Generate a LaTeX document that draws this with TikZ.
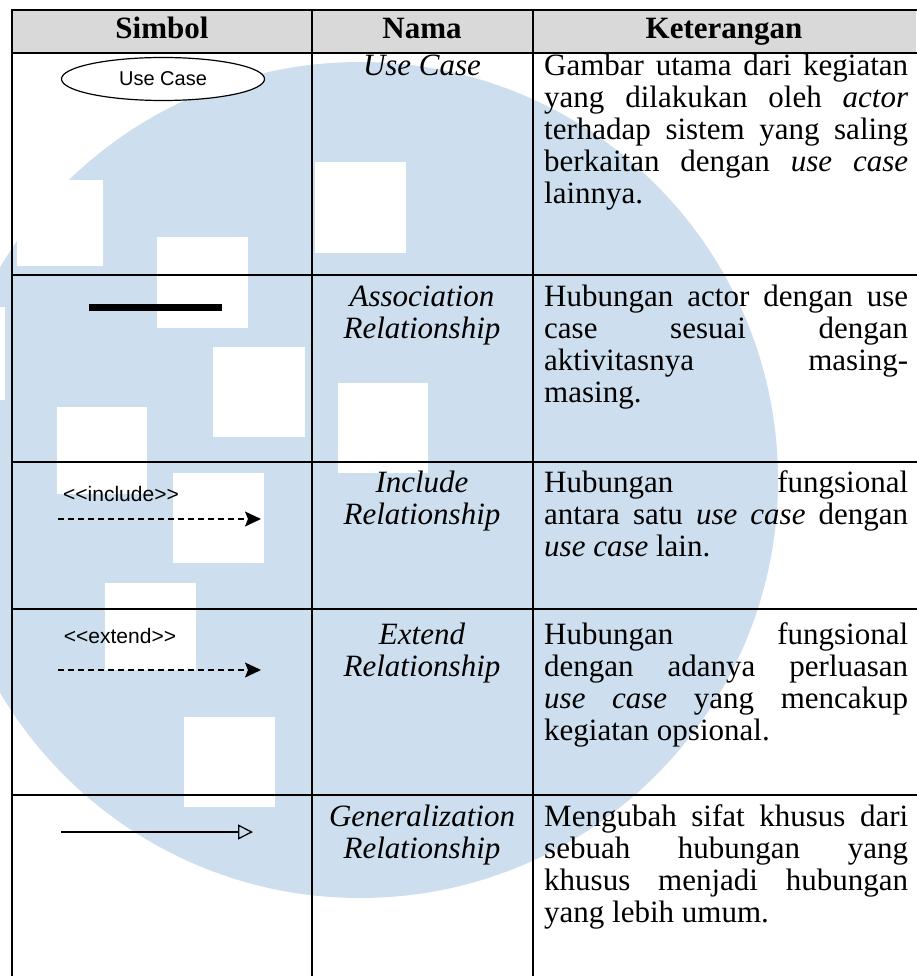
\documentclass[tikz,border=0pt]{standalone}
\usepackage{fontspec}
\setmainfont{Liberation Serif}
\newfontfamily\labelfont{Liberation Sans}
\usetikzlibrary{arrows.meta,shapes.geometric}

\definecolor{wmblue}{RGB}{205,223,238}
\definecolor{headgray}{RGB}{217,217,217}

\newcommand\bodyfont{\fontsize{31}{32}\selectfont}
\newcommand\justline[1]{\makebox[364pt][s]{#1}}

\begin{document}
\begin{tikzpicture}[x=1pt,y=-1pt,
  grid/.style={line width=2pt, black, line cap=rect},
  txt/.style={inner sep=0pt, font=\bodyfont},
  jl/.style={txt, anchor=base west},
  nm/.style={inner sep=0pt, anchor=base, font=\bodyfont\itshape},
  hd/.style={inner sep=0pt, anchor=base, font=\bodyfont\bfseries},
  lbl/.style={inner sep=0pt, font=\labelfont\fontsize{21}{21}\selectfont},
  dasharrow/.style={line width=1.4pt, dash pattern=on 6pt off 4pt,
    -{Stealth[length=16pt,width=15pt,inset=3pt]}},
  genarrow/.style={line width=1.3pt, -{Triangle[open,length=15pt,width=15pt]}},
]
\useasboundingbox (0,0) rectangle (916,976);
\fill[white] (0,0) rectangle (916,976);

% watermark disc with its white squares
\begin{scope}
  \clip (0,0) rectangle (916,976);
  \fill[wmblue] (360,480) circle[radius=418pt];
  \fill[white] (17,180) rectangle (103,266);
  \fill[white] (157,237) rectangle (248,328);
  \fill[white] (315,162) rectangle (406,253);
  \fill[white] (-5,307) rectangle (5,400);
  \fill[white] (213,347) rectangle (305,437);
  \fill[white] (57,407) rectangle (147,494);
  \fill[white] (338,383) rectangle (428,473);
  \fill[white] (173,473) rectangle (264,563);
  \fill[white] (105,583) rectangle (196,670);
  \fill[white] (184,717) rectangle (275,807);
\end{scope}

% header band
\fill[headgray] (12,10) rectangle (916,53);

% table rules
\foreach \yy in {10,53,275,462,609,795}
  \draw[grid] (12,\yy) -- (916,\yy);
\foreach \xx in {12,312,533}
  \draw[grid] (\xx,10) -- (\xx,976);

% header
\node[hd] (hSimbol) at (162,39) {Simbol};
\node[hd] (hNama) at (422,39) {Nama};
\node[hd] (hKet) at (724,39) {Keterangan};

% row 1: use case
\node[draw, fill=white, ellipse, line width=1.2pt, minimum width=203pt, minimum height=43pt,
  inner sep=0pt, font=\labelfont\fontsize{20}{20}\selectfont] (uc) at (163,79) {Use Case};
\node[nm] (n1) at (422,76) {Use Case};
\node[jl] (k1a) at (544,76) {\justline{Gambar utama dari kegiatan}};
\node[jl] (k1b) at (544,108) {\justline{yang dilakukan oleh \textit{actor}}};
\node[jl] (k1c) at (544,140) {\justline{terhadap sistem yang saling}};
\node[jl] (k1d) at (544,172) {\justline{berkaitan dengan \textit{use case}}};
\node[jl] (k1e) at (544,204) {lainnya.};

% row 2: association
\coordinate (asA) at (89,307);
\coordinate (asB) at (222,307);
\draw[line width=7pt] (asA) -- (asB);
\node[nm] (n2a) at (422,306) {Association};
\node[nm] (n2b) at (422,338) {Relationship};
\node[jl] (k2a) at (544,306) {\justline{Hubungan actor dengan use}};
\node[jl] (k2b) at (544,338) {\justline{case sesuai dengan}};
\node[jl] (k2c) at (544,370) {\justline{aktivitasnya masing-}};
\node[jl] (k2d) at (544,402) {masing.};

% row 3: include
\node[lbl] (inc) at (121,494) {{<}{<}include{>}{>}};
\coordinate (inA) at (58,519);
\coordinate (inB) at (261,519);
\draw[dasharrow] (inA) -- (inB);
\node[nm] (n3a) at (422,492) {Include};
\node[nm] (n3b) at (422,524) {Relationship};
\node[jl] (k3a) at (544,492) {\justline{Hubungan fungsional}};
\node[jl] (k3b) at (544,524) {\justline{antara satu \textit{use case} dengan}};
\node[jl] (k3c) at (544,556) {\textit{use case} lain.};

% row 4: extend
\node[lbl] (ext) at (120,636) {{<}{<}extend{>}{>}};
\coordinate (exA) at (58,670);
\coordinate (exB) at (261,670);
\draw[dasharrow] (exA) -- (exB);
\node[nm] (n4a) at (422,644) {Extend};
\node[nm] (n4b) at (422,676) {Relationship};
\node[jl] (k4a) at (544,644) {\justline{Hubungan fungsional}};
\node[jl] (k4b) at (544,676) {\justline{dengan adanya perluasan}};
\node[jl] (k4c) at (544,708) {\justline{\textit{use case} yang mencakup}};
\node[jl] (k4d) at (544,740) {kegiatan opsional.};

% row 5: generalization
\coordinate (geA) at (61,832);
\coordinate (geB) at (253,832);
\draw[genarrow] (geA) -- (geB);
\node[nm] (n5a) at (422,826) {Generalization};
\node[nm] (n5b) at (422,858) {Relationship};
\node[jl] (k5a) at (544,826) {\justline{Mengubah sifat khusus dari}};
\node[jl] (k5b) at (544,858) {\justline{sebuah hubungan yang}};
\node[jl] (k5c) at (544,890) {\justline{khusus menjadi hubungan}};
\node[jl] (k5d) at (544,922) {yang lebih umum.};
\end{tikzpicture}
\end{document}
